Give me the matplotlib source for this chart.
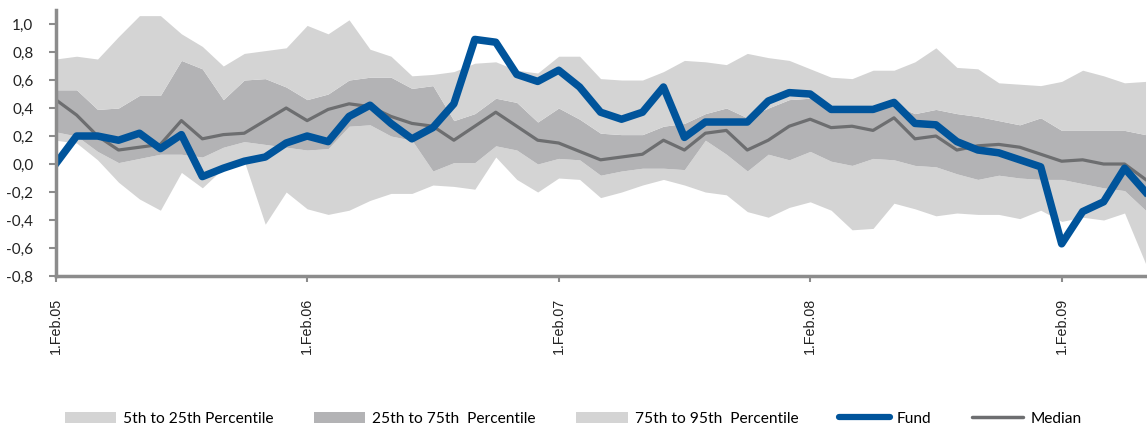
import numpy as np
import matplotlib
matplotlib.use('Agg')
import matplotlib.pyplot as plt
from matplotlib.patches import Patch
from matplotlib.lines import Line2D

# monthly values, Feb 2005 .. Jun 2009
p95 = [0.75, 0.77, 0.75, 0.91, 1.06, 1.06, 0.93, 0.84, 0.70, 0.79, 0.81, 0.83,
       0.99, 0.93, 1.03, 0.82, 0.77, 0.63, 0.64, 0.66, 0.72, 0.73, 0.67, 0.65,
       0.77, 0.77, 0.61, 0.60, 0.60, 0.66, 0.74, 0.73, 0.71, 0.79, 0.76, 0.74,
       0.68, 0.62, 0.61, 0.67, 0.67, 0.73, 0.83, 0.69, 0.68, 0.58, 0.57, 0.56,
       0.59, 0.67, 0.63, 0.58, 0.59]
p75 = [0.53, 0.53, 0.39, 0.40, 0.49, 0.49, 0.74, 0.68, 0.46, 0.60, 0.61, 0.55,
       0.46, 0.50, 0.60, 0.62, 0.62, 0.54, 0.56, 0.31, 0.36, 0.47, 0.44, 0.30,
       0.40, 0.32, 0.22, 0.21, 0.21, 0.27, 0.29, 0.36, 0.40, 0.33, 0.40, 0.46,
       0.47, 0.42, 0.40, 0.40, 0.42, 0.36, 0.39, 0.36, 0.34, 0.31, 0.28, 0.33,
       0.24, 0.24, 0.24, 0.24, 0.21]
p25 = [0.23, 0.20, 0.09, 0.01, 0.04, 0.07, 0.07, 0.05, 0.12, 0.16, 0.14, 0.12,
       0.10, 0.11, 0.27, 0.28, 0.20, 0.17, -0.05, 0.01, 0.01, 0.13, 0.10, 0.00,
       0.04, 0.03, -0.08, -0.05, -0.03, -0.03, -0.04, 0.17, 0.07, -0.05, 0.07, 0.03,
       0.09, 0.02, -0.01, 0.04, 0.03, -0.01, -0.02, -0.07, -0.11, -0.08, -0.10, -0.11,
       -0.11, -0.14, -0.17, -0.19, -0.33]
p5 = [0.17, 0.15, 0.03, -0.13, -0.25, -0.33, -0.06, -0.17, -0.03, 0.02, -0.43, -0.20,
      -0.32, -0.36, -0.33, -0.26, -0.21, -0.21, -0.15, -0.16, -0.18, 0.05, -0.11, -0.20,
      -0.10, -0.11, -0.24, -0.20, -0.15, -0.11, -0.15, -0.20, -0.22, -0.34, -0.38, -0.31,
      -0.27, -0.33, -0.47, -0.46, -0.28, -0.32, -0.37, -0.35, -0.36, -0.36, -0.39, -0.33,
      -0.41, -0.38, -0.40, -0.35, -0.71]
median = [0.46, 0.35, 0.20, 0.10, 0.12, 0.14, 0.31, 0.18, 0.21, 0.22, 0.31, 0.40,
          0.31, 0.39, 0.43, 0.41, 0.34, 0.29, 0.27, 0.17, 0.27, 0.37, 0.27, 0.17,
          0.15, 0.09, 0.03, 0.05, 0.07, 0.17, 0.10, 0.22, 0.24, 0.10, 0.17, 0.27,
          0.32, 0.26, 0.27, 0.24, 0.33, 0.18, 0.20, 0.10, 0.13, 0.14, 0.12, 0.07,
          0.02, 0.03, 0.00, 0.00, -0.11]
fund = [0.00, 0.20, 0.20, 0.17, 0.22, 0.11, 0.21, -0.09, -0.03, 0.02, 0.05, 0.15,
        0.20, 0.16, 0.34, 0.42, 0.29, 0.18, 0.26, 0.43, 0.89, 0.87, 0.64, 0.59,
        0.67, 0.55, 0.37, 0.32, 0.37, 0.55, 0.19, 0.30, 0.30, 0.30, 0.45, 0.51,
        0.50, 0.39, 0.39, 0.39, 0.44, 0.29, 0.28, 0.16, 0.10, 0.08, 0.03, -0.02,
        -0.57, -0.34, -0.27, -0.03, -0.20]

tick_pos = [0, 12, 24, 36, 48]
tick_labels = ['1.Feb.05', '1.Feb.06', '1.Feb.07', '1.Feb.08', '1.Feb.09']
y_ticks = [-0.8, -0.6, -0.4, -0.2, 0.0, 0.2, 0.4, 0.6, 0.8, 1.0]

light = '#d4d4d4'
dark = '#b3b3b5'
blue = '#00549b'
grey_line = '#6d6e70'
axis_grey = '#8c8c8c'

x = np.arange(len(fund))

fig = plt.figure(figsize=(11.47, 4.30), dpi=100)
ax = fig.add_axes([0.0485, 0.3581, 0.9502, 0.6186])

ax.fill_between(x, p5, p25, color=light, linewidth=0)
ax.fill_between(x, p25, p75, color=dark, linewidth=0)
ax.fill_between(x, p75, p95, color=light, linewidth=0)
ax.plot(x, median, color=grey_line, linewidth=2.3)
ax.plot(x, fund, color=blue, linewidth=5.4)

ax.set_xlim(0, len(fund) - 1)
ax.set_ylim(-0.8, 1.1)

for side in ['top', 'right']:
    ax.spines[side].set_visible(False)
for side in ['left', 'bottom']:
    ax.spines[side].set_color(axis_grey)
    ax.spines[side].set_linewidth(2.5)

ax.set_yticks(y_ticks)
ax.set_yticklabels([('%.1f' % v).replace('.', ',') for v in y_ticks],
                   fontfamily='Lato', fontsize=11, color='#222222')
ax.tick_params(axis='y', length=5, width=1.5, color=axis_grey, pad=11)

ax.set_xticks(tick_pos)
ax.set_xticklabels(tick_labels, rotation=90, fontfamily='Liberation Sans',
                   fontsize=10.3, color='#222222', va='top')
ax.tick_params(axis='x', length=4, width=1.5, color=axis_grey, pad=12)

handles = [
    Patch(color=light, linewidth=0),
    Patch(color=dark, linewidth=0),
    Patch(color=light, linewidth=0),
    Line2D([], [], color=blue, linewidth=4.5, solid_capstyle='round'),
    Line2D([], [], color=grey_line, linewidth=2.5, solid_capstyle='round'),
]
names = ['5th to 25th Percentile', '25th to 75th  Percentile',
         '75th to 95th  Percentile', 'Fund', 'Median']
fig.legend(handles, names, loc='center', bbox_to_anchor=(0.4996, 0.026),
           ncol=5, frameon=False, handlelength=3.3, handletextpad=0.45,
           columnspacing=2.6, prop={'family': 'Lato', 'size': 11.2})

fig.savefig('out.png', dpi=100)
